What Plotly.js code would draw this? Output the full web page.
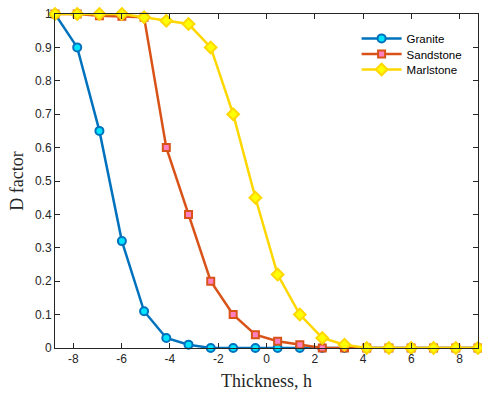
<!DOCTYPE html>
<html>
<head>
<meta charset="utf-8">
<script src="https://cdn.plot.ly/plotly-3.0.1.min.js"></script>
<style>body{margin:0;padding:0;background:#fff}#chart{width:482px;height:395px}</style>
</head>
<body>
<div id="chart"></div>
<script>
const thickness = [-8.76, -7.84, -6.92, -5.99, -5.07, -4.15, -3.23, -2.31, -1.38, -0.46, 0.46, 1.38, 2.31, 3.23, 4.15, 5.07, 5.99, 6.92, 7.84, 8.76];
const granite   = [1, 0.9, 0.65, 0.32, 0.11, 0.03, 0.01, 0, 0, 0, 0, 0, 0, 0, 0, 0, 0, 0, 0, 0];
const sandstone = [1, 1, 0.995, 0.993, 0.99, 0.6, 0.4, 0.2, 0.1, 0.04, 0.02, 0.01, 0, 0, 0, 0, 0, 0, 0, 0];
const marlstone = [1, 1, 1, 1, 0.99, 0.98, 0.97, 0.9, 0.7, 0.45, 0.22, 0.1, 0.03, 0.01, 0, 0, 0, 0, 0, 0];
const seriesNames = ['Granite', 'Sandstone', 'Marlstone'];
const xTicks = [-8, -6, -4, -2, 0, 2, 4, 6, 8];
const yTicks = [0, 0.1, 0.2, 0.3, 0.4, 0.5, 0.6, 0.7, 0.8, 0.9, 1];
const yTickText = ['0', '0.1', '0.2', '0.3', '0.4', '0.5', '0.6', '0.7', '0.8', '0.9', '1'];

const traces = [
  {x: thickness, y: granite, name: seriesNames[0], legend: 'legend', mode: 'lines+markers', cliponaxis: false,
   line: {color: '#0072BD', width: 2.5},
   marker: {symbol: 'circle', size: 8, color: '#00E5FF', line: {color: '#0072BD', width: 2}}},
  {x: thickness, y: sandstone, name: seriesNames[1], legend: 'legend2', mode: 'lines+markers', cliponaxis: false,
   line: {color: '#D95319', width: 2.5},
   marker: {symbol: 'square', size: 7, color: '#FF80C0', line: {color: '#D95319', width: 2}}},
  {x: thickness, y: marlstone, name: seriesNames[2], legend: 'legend3', mode: 'lines+markers', cliponaxis: false,
   line: {color: '#FFD700', width: 2.5},
   marker: {symbol: 'diamond', size: 9, color: '#FFFF00', line: {color: '#FFD700', width: 2}}}
];

const axisCommon = {
  showgrid: false, zeroline: false, showline: true, linecolor: '#262626', linewidth: 1,
  mirror: 'allticks', ticks: 'inside', ticklen: 5, tickcolor: '#262626', tickwidth: 1,
  tickfont: {family: 'Liberation Sans, Arial, sans-serif', size: 12, color: '#262626'}
};

const legendFont = {family: 'Liberation Sans, Arial, sans-serif', size: 11.5, color: '#000'};
function mkLegend(y) {
  return {x: 0.713, y: y, xanchor: 'left', yanchor: 'middle', bgcolor: 'rgba(255,255,255,0)',
          borderwidth: 0, font: legendFont, itemwidth: 40};
}

const layout = {
  width: 482, height: 395,
  margin: {l: 55, r: 4, t: 14, b: 47},
  paper_bgcolor: '#fff', plot_bgcolor: '#fff',
  showlegend: true,
  legend: mkLegend(0.927),
  legend2: mkLegend(0.880),
  legend3: mkLegend(0.834),
  xaxis: Object.assign({}, axisCommon, {
    range: [-8.76, 8.76], tickvals: xTicks, ticktext: xTicks.map(String),
    title: {text: 'Thickness, h', font: {family: 'Liberation Serif, Times New Roman, serif', size: 18, color: '#262626'}, standoff: 8}
  }),
  yaxis: Object.assign({}, axisCommon, {
    range: [0, 1], tickvals: yTicks, ticktext: yTickText,
    title: {text: 'D factor', font: {family: 'Liberation Serif, Times New Roman, serif', size: 18, color: '#262626'}, standoff: 6}
  })
};

Plotly.newPlot('chart', traces, layout, {displayModeBar: false, staticPlot: true});
</script>
</body>
</html>
